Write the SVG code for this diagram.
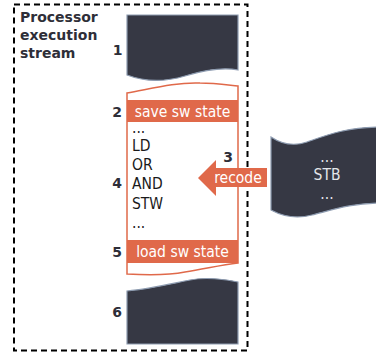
<svg xmlns="http://www.w3.org/2000/svg" width="376" height="358" viewBox="0 0 376 358">
<style>
.dark{fill:#363844;stroke:#8d9bb0;stroke-width:1.2}
.or{fill:#e0694a}
.lbl{font-family:"DejaVu Sans",sans-serif;font-weight:bold;font-size:14px;fill:#2e2e38}
.txt{font-family:"DejaVu Sans Condensed","DejaVu Sans",sans-serif;font-size:15.5px;fill:#1a1a1a}
.wt{font-family:"DejaVu Sans Condensed","DejaVu Sans",sans-serif;font-size:15.5px;fill:#ffffff}
.st{font-family:"DejaVu Sans Condensed","DejaVu Sans",sans-serif;font-size:15.5px;fill:#e4e6ea}
</style>
<g id="frame">
<rect x="14" y="4.5" width="233.5" height="346" fill="none" stroke="#000" stroke-width="2" stroke-dasharray="6,4"/>
<text class="lbl" x="20" y="22">Processor</text>
<text class="lbl" x="20" y="40">execution</text>
<text class="lbl" x="20" y="58">stream</text>
</g>
<g id="block1">
<path class="dark" d="M127,15 H238 V70 C222,67 205,70 185,76 C165,82 145,82 127,75 Z"/>
<text class="lbl" x="117.5" y="55" text-anchor="middle">1</text>
</g>
<g id="block2to5">
<path d="M127,93 C150,89 175,82 200,83 C215,83 228,85 238,86 V263 C220,265 205,269 185,272 C165,276 145,275 127,274 Z" fill="#fff" stroke="#e0694a" stroke-width="1.5"/>
<rect class="or" x="127" y="100" width="111" height="22"/>
<text class="wt" x="182.5" y="116.5" text-anchor="middle">save sw state</text>
<rect class="or" x="127" y="240" width="111" height="23"/>
<text class="wt" x="182.5" y="257" text-anchor="middle">load sw state</text>
<text class="txt" x="132" y="133">...</text>
<text class="txt" x="132" y="151">LD</text>
<text class="txt" x="132" y="170">OR</text>
<text class="txt" x="132" y="189">AND</text>
<text class="txt" x="132" y="209">STW</text>
<text class="txt" x="132" y="228">...</text>
<text class="lbl" x="117" y="117" text-anchor="middle">2</text>
<text class="lbl" x="117" y="188" text-anchor="middle">4</text>
<text class="lbl" x="117" y="257" text-anchor="middle">5</text>
</g>
<g id="block6">
<path class="dark" d="M127,291 C150,289 170,284 190,280 C205,277 225,279 238,282 V344 H127 Z"/>
<text class="lbl" x="117" y="317" text-anchor="middle">6</text>
</g>
<g id="stb">
<path class="dark" d="M271,137 C280,143 292,147 307,142 C327,135 347,127 382,127 V203 C352,203 332,210 312,215 C297,219 282,216 271,210 Z"/>
<text class="st" x="327" y="162" text-anchor="middle">...</text>
<text class="st" x="327" y="179.5" text-anchor="middle">STB</text>
<text class="st" x="327" y="199" text-anchor="middle">...</text>
</g>
<g id="connectors">
<polygon class="or" points="198,178 216,160 216,168 267,168 267,187 216,187 216,196"/>
<text class="wt" x="238" y="183" text-anchor="middle">recode</text>
<text class="lbl" x="228" y="162" text-anchor="middle">3</text>
</g>
</svg>
